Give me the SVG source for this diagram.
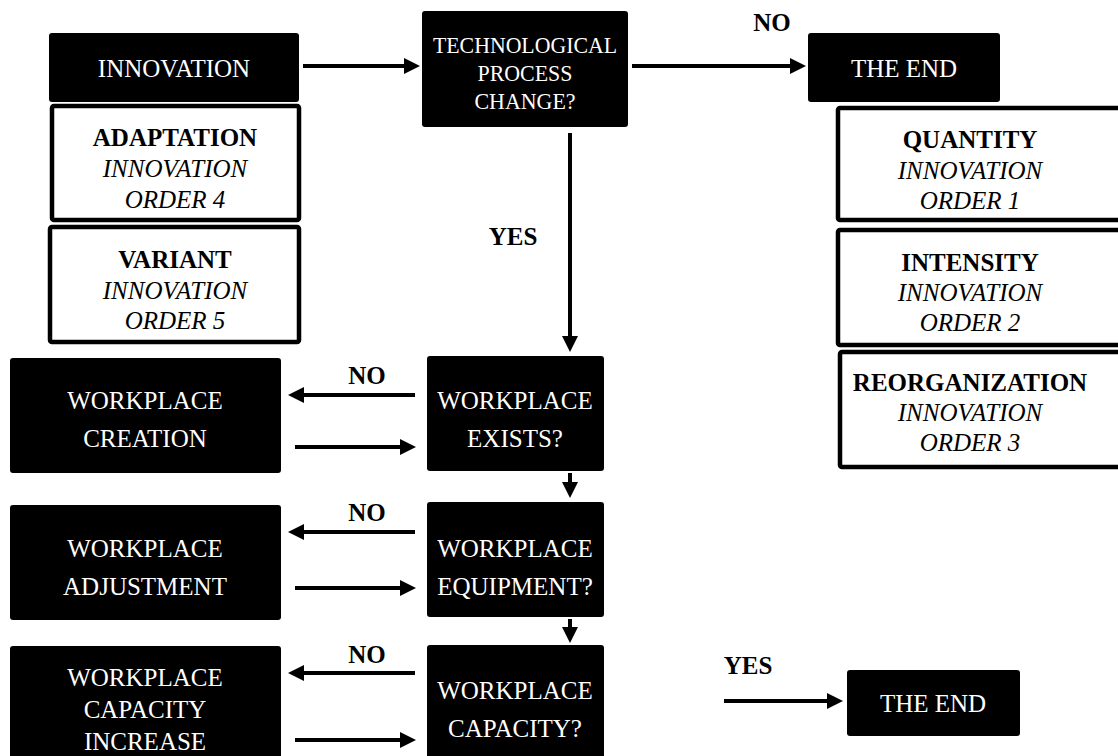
<svg xmlns="http://www.w3.org/2000/svg" width="1118" height="756" viewBox="0 0 1118 756" font-family="Liberation Serif, Times New Roman, serif">
<style>
.b{fill:#000;}
.w{fill:#fff;stroke:#000;stroke-width:4.5;}
.t{font-family:'Liberation Serif','Times New Roman',serif;font-size:25px;text-anchor:middle;}
.sm{font-size:24px;}
.tw{fill:#fff;}
.bd{font-weight:bold;}
.it{font-style:italic;}
.c{stroke:#000;stroke-width:4;fill:none;marker-end:url(#ah);}
</style>
<defs>
<marker id="ah" markerUnits="userSpaceOnUse" markerWidth="16" markerHeight="16" viewBox="0 0 16 16" refX="2" refY="8" orient="auto">
<path d="M0,0 L16,8 L0,16 z" fill="#000"/>
</marker>
</defs>
<rect width="1118" height="756" fill="#fff"/>

<g id="connectors">
<line class="c" x1="303" y1="66" x2="406" y2="66"/>
<line class="c" x1="632" y1="66" x2="792" y2="66"/>
<line class="c" x1="570" y1="133" x2="570" y2="338"/>
<line class="c" x1="415" y1="395" x2="302" y2="395"/>
<line class="c" x1="295" y1="447" x2="402" y2="447"/>
<line class="c" x1="570" y1="473" x2="570" y2="484"/>
<line class="c" x1="415" y1="532" x2="302" y2="532"/>
<line class="c" x1="295" y1="588" x2="402" y2="588"/>
<line class="c" x1="570" y1="619" x2="570" y2="629"/>
<line class="c" x1="415" y1="673" x2="302" y2="673"/>
<line class="c" x1="295" y1="740" x2="402" y2="740"/>
<line class="c" x1="724" y1="701" x2="829" y2="701"/>
<text class="t bd" x="772" y="31">NO</text>
<text class="t bd" x="513" y="245">YES</text>
<text class="t bd" x="367" y="384">NO</text>
<text class="t bd" x="367" y="521">NO</text>
<text class="t bd" x="367" y="663">NO</text>
<text class="t bd" x="748" y="674">YES</text>
</g>

<g id="innovation">
<rect class="b" x="49" y="33" width="250" height="69" rx="3"/>
<text class="t tw" x="174" y="77">INNOVATION</text>
</g>

<g id="tech-change">
<rect class="b" x="422" y="11" width="206" height="116" rx="3"/>
<text class="t tw sm" x="525" y="53" textLength="184" lengthAdjust="spacingAndGlyphs">TECHNOLOGICAL</text>
<text class="t tw sm" x="525" y="81" textLength="95" lengthAdjust="spacingAndGlyphs">PROCESS</text>
<text class="t tw sm" x="525" y="109" textLength="101" lengthAdjust="spacingAndGlyphs">CHANGE?</text>
</g>

<g id="end-top">
<rect class="b" x="808" y="33" width="192" height="69" rx="3"/>
<text class="t tw" x="904" y="77">THE END</text>
</g>

<g id="adaptation">
<rect class="w" x="52" y="106" width="247" height="114" rx="2"/>
<text class="t bd" x="175" y="146">ADAPTATION</text>
<text class="t it" x="175" y="177">INNOVATION</text>
<text class="t it" x="175" y="208">ORDER 4</text>
</g>

<g id="variant">
<rect class="w" x="50" y="227" width="249" height="115" rx="2"/>
<text class="t bd" x="175" y="268">VARIANT</text>
<text class="t it" x="175" y="299">INNOVATION</text>
<text class="t it" x="175" y="329">ORDER 5</text>
</g>

<g id="quantity">
<rect class="w" x="838" y="108" width="290" height="112" rx="2"/>
<text class="t bd" x="970" y="148">QUANTITY</text>
<text class="t it" x="970" y="179">INNOVATION</text>
<text class="t it" x="970" y="209">ORDER 1</text>
</g>

<g id="intensity">
<rect class="w" x="838" y="230" width="290" height="115" rx="2"/>
<text class="t bd" x="970" y="271">INTENSITY</text>
<text class="t it" x="970" y="301">INNOVATION</text>
<text class="t it" x="970" y="331">ORDER 2</text>
</g>

<g id="reorganization">
<rect class="w" x="840" y="352" width="288" height="115" rx="2"/>
<text class="t bd" x="970" y="391">REORGANIZATION</text>
<text class="t it" x="970" y="421">INNOVATION</text>
<text class="t it" x="970" y="451">ORDER 3</text>
</g>

<g id="workplace-creation">
<rect class="b" x="10" y="358" width="271" height="115" rx="3"/>
<text class="t tw" x="145" y="409">WORKPLACE</text>
<text class="t tw" x="145" y="447">CREATION</text>
</g>

<g id="workplace-exists">
<rect class="b" x="427" y="356" width="177" height="115" rx="3"/>
<text class="t tw" x="515" y="409">WORKPLACE</text>
<text class="t tw" x="515" y="447">EXISTS?</text>
</g>

<g id="workplace-adjustment">
<rect class="b" x="10" y="505" width="271" height="115" rx="3"/>
<text class="t tw" x="145" y="557">WORKPLACE</text>
<text class="t tw" x="145" y="595">ADJUSTMENT</text>
</g>

<g id="workplace-equipment">
<rect class="b" x="427" y="502" width="177" height="115" rx="3"/>
<text class="t tw" x="515" y="557">WORKPLACE</text>
<text class="t tw" x="515" y="595">EQUIPMENT?</text>
</g>

<g id="workplace-capacity-increase">
<rect class="b" x="10" y="646" width="271" height="115" rx="3"/>
<text class="t tw" x="145" y="686">WORKPLACE</text>
<text class="t tw" x="145" y="718">CAPACITY</text>
<text class="t tw" x="145" y="750">INCREASE</text>
</g>

<g id="workplace-capacity">
<rect class="b" x="427" y="645" width="177" height="115" rx="3"/>
<text class="t tw" x="515" y="699">WORKPLACE</text>
<text class="t tw" x="515" y="737">CAPACITY?</text>
</g>

<g id="end-bottom">
<rect class="b" x="847" y="670" width="173" height="66" rx="3"/>
<text class="t tw" x="933" y="712">THE END</text>
</g>
</svg>
